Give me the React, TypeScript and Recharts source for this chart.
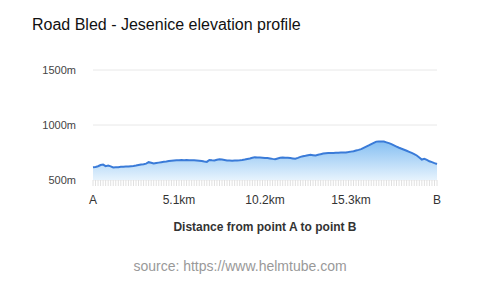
import { Area, AreaChart, CartesianGrid, XAxis, YAxis } from "recharts";

// elevation (m) sampled every 0.15 km from A (0 km) to B (20.4 km)
const STEP_KM = 0.15;
const elevations = [
  616, 619, 625, 636, 640, 626, 631, 624, 614, 616, 617, 620, 621, 622, 623, 625,
  627, 631, 636, 641, 644, 649, 662, 657, 650, 654, 658, 662, 665, 668, 672, 675,
  677, 679, 680, 681, 680, 681, 680, 679, 680, 678, 676, 672, 668, 665, 682, 679,
  678, 684, 689, 686, 682, 678, 677, 676, 678, 677, 679, 682, 686, 691, 696, 702,
  707, 705, 704, 702, 700, 699, 696, 692, 689, 696, 702, 705, 703, 702, 699, 696,
  693, 701, 710, 716, 720, 725, 729, 726, 723, 729, 735, 740, 744, 745, 746, 746,
  747, 748, 749, 750, 751, 754, 758, 762, 768, 774, 781, 793, 804, 815, 827, 838,
  849, 851, 851, 849, 842, 835, 826, 815, 804, 793, 784, 775, 766, 756, 746, 736,
  723, 705, 686, 692, 683, 670, 662, 653, 645,
];

const xLabelIndex = [0, 34, 68, 102, 136];
const xLabels = ["A", "5.1km", "10.2km", "15.3km", "B"];
const yTicks = [500, 1000, 1500];

const FONT = '"Liberation Sans", Arial, Helvetica, sans-serif';

const data = elevations.map((m, i) => ({ km: +(i * STEP_KM).toFixed(2), m }));

function DistanceTick(props: any) {
  const { x, y, index } = props;
  const k = xLabelIndex.indexOf(index);
  if (k < 0) return <g />;
  return (
    <text x={x} y={y + 16} textAnchor="middle" fontSize={12} fill="#333" fontFamily={FONT}>
      {xLabels[k]}
    </text>
  );
}

export default function App() {
  return (
    <div
      style={{
        position: "absolute",
        left: 0,
        top: 0,
        width: 480,
        height: 287,
        background: "#fff",
        fontFamily: FONT,
      }}
    >
      <div style={{ position: "absolute", left: 32, top: 16, fontSize: 16, color: "#111" }}>
        Road Bled - Jesenice elevation profile
      </div>
      <div style={{ position: "absolute", left: 0, top: 0 }}>
        <AreaChart
          width={480}
          height={210}
          data={data}
          margin={{ top: 70, right: 43, bottom: 0, left: 0 }}
        >
          <defs>
            <linearGradient id="elevFill" x1="0" y1="0" x2="0" y2="1">
              <stop offset="0%" stopColor="#86bff2" />
              <stop offset="100%" stopColor="#e6f3fd" />
            </linearGradient>
          </defs>
          <CartesianGrid vertical={false} stroke="#e8e8e8" />
          <XAxis
            dataKey="km"
            interval={0}
            axisLine={false}
            tickLine={{ stroke: "#e0e0e0" }}
            tickSize={6}
            tick={<DistanceTick />}
            height={30}
          />
          <YAxis
            domain={[500, 1500]}
            ticks={yTicks}
            width={93}
            axisLine={false}
            tickLine={false}
            tickMargin={11}
            tickFormatter={(v: number) => `${v}m`}
            tick={{ fontSize: 11, fill: "#444", fontFamily: FONT }}
          />
          <Area
            type="linear"
            dataKey="m"
            baseValue={500}
            stroke="#3a7bd8"
            strokeWidth={2}
            fill="url(#elevFill)"
            fillOpacity={1}
            dot={false}
            activeDot={false}
            isAnimationActive={false}
          />
        </AreaChart>
      </div>
      <div
        style={{
          position: "absolute",
          left: 0,
          width: 530,
          top: 220,
          textAlign: "center",
          fontSize: 12,
          fontWeight: "bold",
          color: "#333",
        }}
      >
        Distance from point A to point B
      </div>
      <div
        style={{
          position: "absolute",
          left: 0,
          width: 480,
          top: 258,
          textAlign: "center",
          fontSize: 14,
          color: "#999",
        }}
      >
        source: https://www.helmtube.com
      </div>
    </div>
  );
}
